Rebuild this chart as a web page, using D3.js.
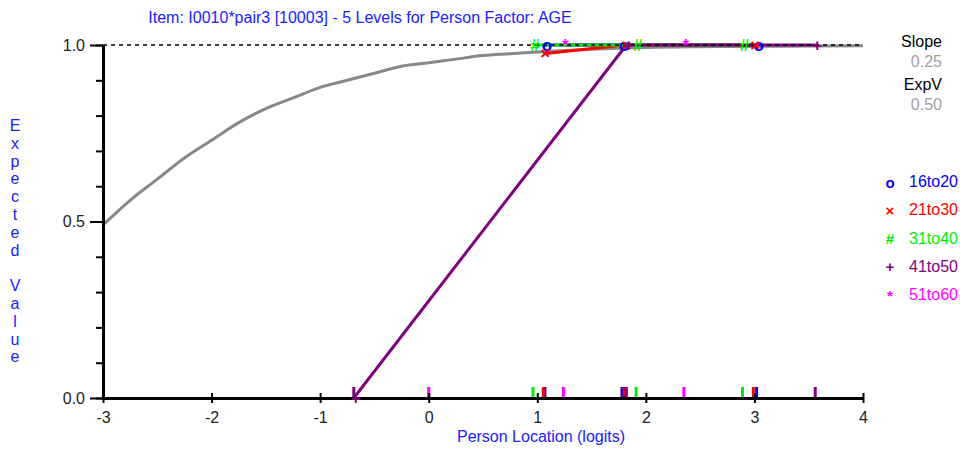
<!DOCTYPE html>
<html>
<head>
<meta charset="utf-8">
<script src="https://cdn.jsdelivr.net/npm/d3@7"></script>
<style>
  body { margin: 0; background: #fff; }
  svg text { font-family: "Liberation Sans", Arial, sans-serif; }
</style>
</head>
<body>
<div id="viz"></div>
<script>
// model curve (expected value)
const curveX = [-3, -2.75, -2.5, -2.25, -2, -1.75, -1.5, -1.25, -1, -0.75, -0.5, -0.25, 0, 0.25, 0.5, 0.75, 1, 1.5, 2, 2.5, 3, 3.5, 4];
const curveY = [0.49, 0.56, 0.62, 0.68, 0.73, 0.78, 0.82, 0.85, 0.88, 0.90, 0.92, 0.94, 0.95, 0.96, 0.97, 0.975, 0.98, 0.988, 0.993, 0.995, 0.996, 0.997, 0.998];

// person factor levels
const groups = ["16to20", "21to30", "31to40", "41to50", "51to60"];
const groupColors = ["#0000ff", "#ff0000", "#00ee00", "#800080", "#ff00ff"];
const groupSymbols = ["o", "\u00d7", "#", "+", "*"];

// observed means per class interval (location, value); null = no point
const loc16to20 = [1.07, 1.78, 3.02];
const val16to20 = [1, 1, 1];
const loc21to30 = [1.055, 1.80, 2.99];
const val21to30 = [0.975, 1, 1];
const loc31to40 = [0.96, 1.91, 2.89];
const val31to40 = [1, 1, 1];
const loc41to50 = [-0.69, 1.82, 3.56];
const val41to50 = [0, 1, 1];
const loc51to60 = [0.0, 1.24, 2.35];
const val51to60 = [null, 1, 1];

const groupLocs = [loc16to20, loc21to30, loc31to40, loc41to50, loc51to60];
const groupVals = [val16to20, val21to30, val31to40, val41to50, val51to60];

const xTicks = [-3, -2, -1, 0, 1, 2, 3, 4];
const yMajor = [0, 0.5, 1];
const yMinor = d3.range(0, 1.001, 0.1);

const titleText = "Item: I0010*pair3 [10003] - 5 Levels for Person Factor: AGE";
const slopeValue = "0.25";
const expValue = "0.50";

const W = 960, H = 450;
const svg = d3.select("#viz").append("svg").attr("width", W).attr("height", H);

const x = d3.scaleLinear().domain([-3, 4]).range([103, 863]);
const y = d3.scaleLinear().domain([0, 1]).range([398, 45]);

// title
svg.append("text")
    .attr("x", 360)
    .attr("y", 23)
    .attr("text-anchor", "middle")
    .attr("fill", "#2020ff")
    .attr("font-size", 16)
    .text(titleText);

// y axis title, one letter per line
const yTitle = "Expected Value".split("");
svg.append("g").selectAll("text")
    .data(yTitle)
    .join("text")
    .attr("x", 15)
    .attr("y", (d, i) => 131 + i * 17.8)
    .attr("text-anchor", "middle")
    .attr("fill", "#2020ff")
    .attr("font-size", 16)
    .text(d => d);

// x axis title
svg.append("text")
    .attr("x", 541)
    .attr("y", 442)
    .attr("text-anchor", "middle")
    .attr("fill", "#2020ff")
    .attr("font-size", 16)
    .text("Person Location (logits)");

// grey model curve
const curve = curveX.map((d, i) => [d, curveY[i]]);
svg.append("path")
    .datum(curve)
    .attr("fill", "none")
    .attr("stroke", "#888")
    .attr("stroke-width", 3)
    .attr("d", d3.line().x(d => x(d[0])).y(d => y(d[1])).curve(d3.curveMonotoneX));

// group lines
const drawOrder = [4, 0, 1, 2, 3];
const lineGen = d3.line()
    .defined(d => d[1] !== null)
    .x(d => x(d[0]))
    .y(d => y(d[1]));

drawOrder.forEach(g => {
    const pts = groupLocs[g].map((d, i) => [d, groupVals[g][i]]);
    svg.append("path")
        .datum(pts)
        .attr("fill", "none")
        .attr("stroke", groupColors[g])
        .attr("stroke-width", 3)
        .attr("d", lineGen);
});

// dashed line at 1.0
svg.append("line")
    .attr("x1", x(-3))
    .attr("x2", x(4))
    .attr("y1", y(1))
    .attr("y2", y(1))
    .attr("stroke", "#000")
    .attr("stroke-width", 1.5)
    .attr("stroke-dasharray", "4,4");

// location ticks on x axis
drawOrder.forEach(g => {
    svg.append("g").selectAll("line")
        .data(groupLocs[g])
        .join("line")
        .attr("x1", d => x(d))
        .attr("x2", d => x(d))
        .attr("y1", y(0) - 11)
        .attr("y2", y(0))
        .attr("stroke", groupColors[g])
        .attr("stroke-width", 3);
});

// axes
const yMinorAxis = svg.append("g")
    .attr("transform", `translate(${x(-3)},0)`)
    .call(d3.axisLeft(y).tickValues(yMinor).tickSize(7).tickSizeOuter(0).tickFormat(""));
yMinorAxis.selectAll(".tick line").attr("stroke", "#000").attr("stroke-width", 2);
yMinorAxis.select(".domain").remove();

const yAxis = svg.append("g")
    .attr("transform", `translate(${x(-3)},0)`)
    .call(d3.axisLeft(y).tickValues(yMajor).tickSize(13).tickSizeOuter(0).tickPadding(5).tickFormat(d3.format(".1f")));
yAxis.select(".domain").attr("stroke", "#000").attr("stroke-width", 3);
yAxis.selectAll(".tick line").attr("stroke", "#000").attr("stroke-width", 2);
yAxis.selectAll(".tick text")
    .attr("font-size", 16)
    .attr("font-family", "Liberation Sans, Arial, sans-serif")
    .attr("fill", "#222");

const xAxis = svg.append("g")
    .attr("transform", `translate(0,${y(0)})`)
    .call(d3.axisBottom(x).tickValues(xTicks).tickSize(5).tickSizeOuter(0).tickPadding(9).tickFormat(d => String(d)));
xAxis.select(".domain").attr("stroke", "#000").attr("stroke-width", 3);
xAxis.selectAll(".tick line").attr("y1", -5).attr("stroke", "#000").attr("stroke-width", 2);
xAxis.selectAll(".tick text")
    .attr("font-size", 16)
    .attr("font-family", "Liberation Sans, Arial, sans-serif")
    .attr("fill", "#222");

// markers
drawOrder.forEach(g => {
    const pts = groupLocs[g].map((d, i) => [d, groupVals[g][i]]).filter(d => d[1] !== null);
    svg.append("g").selectAll("text")
        .data(pts)
        .join("text")
        .attr("x", d => x(d[0]) + 2)
        .attr("y", d => y(d[1]))
        .attr("text-anchor", "middle")
        .attr("dominant-baseline", "central")
        .attr("fill", groupColors[g])
        .attr("font-size", 17)
        .attr("font-weight", "bold")
        .text(groupSymbols[g]);
});

// slope / expected value panel
const info = [["Slope", "#000", 47], [slopeValue, "#a0a0a0", 67], ["ExpV", "#000", 90], [expValue, "#a0a0a0", 110]];
svg.append("g").selectAll("text")
    .data(info)
    .join("text")
    .attr("x", 942)
    .attr("y", d => d[2])
    .attr("text-anchor", "end")
    .attr("fill", d => d[1])
    .attr("font-size", 16)
    .text(d => d[0]);

// legend
const legend = svg.append("g").selectAll("g")
    .data(groups)
    .join("g")
    .attr("transform", (d, i) => `translate(0,${187 + i * 28.3})`);

legend.append("text")
    .attr("x", 890)
    .attr("y", -5)
    .attr("text-anchor", "middle")
    .attr("dominant-baseline", "central")
    .attr("fill", (d, i) => groupColors[i])
    .attr("font-size", 15)
    .attr("font-weight", "bold")
    .text((d, i) => groupSymbols[i]);

legend.append("text")
    .attr("x", 909)
    .attr("y", 0)
    .attr("fill", (d, i) => groupColors[i])
    .attr("font-size", 16)
    .text(d => d);
</script>
</body>
</html>
